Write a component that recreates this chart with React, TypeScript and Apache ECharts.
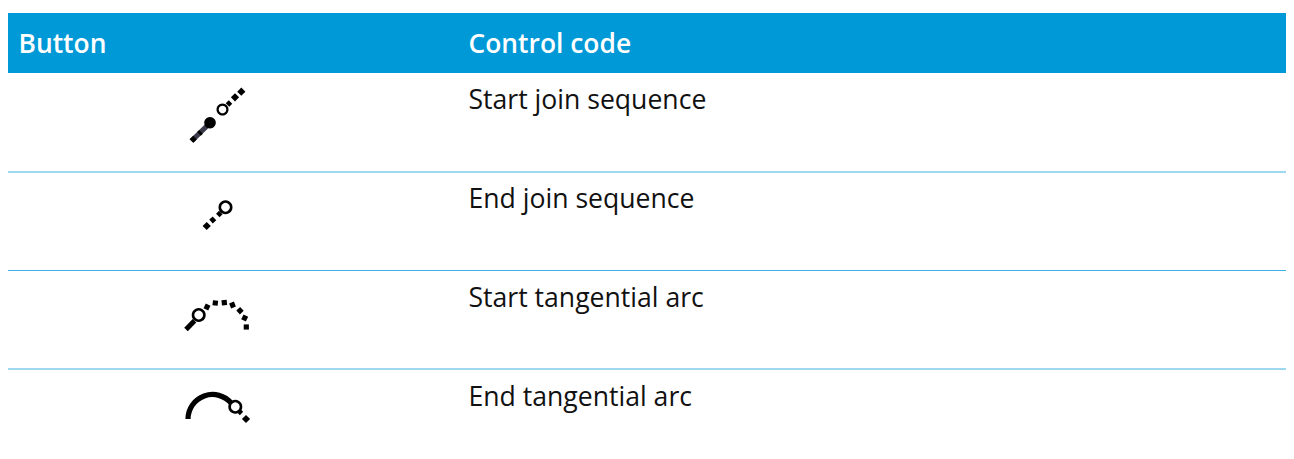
import React, { useEffect, useRef } from "react";
import * as echarts from "echarts";

const headers = ["Button", "Control code"];
const controlCodes = [
  "Start join sequence",
  "End join sequence",
  "Start tangential arc",
  "End tangential arc",
];
const FONT = "'Open Sans', 'Noto Sans', sans-serif";
const BLUE = "#0099D8";
const RULE = "#3DB2E2";
const INK = "#000000";

function seg(x1: number, y1: number, x2: number, y2: number, lineWidth = 5, stroke = INK) {
  return { type: "line", shape: { x1, y1, x2, y2 }, style: { stroke, lineWidth, fill: "none" } };
}
function ringAt(cx: number, cy: number, r: number, lineWidth = 2.6) {
  return { type: "circle", shape: { cx, cy, r }, style: { stroke: INK, fill: "#fff", lineWidth } };
}
function dot(cx: number, cy: number, size = 5.8, angle = Math.PI / 4) {
  return {
    type: "rect",
    x: cx,
    y: cy,
    rotation: angle,
    shape: { x: -size / 2, y: -size / 2, width: size, height: size },
    style: { fill: INK },
  };
}

function icons() {
  return [
    // Start join sequence
    seg(191.5, 141, 210, 123, 5.2, "#3A3A4A"),
    seg(191.5, 141, 195, 137.6, 5.2, INK),
    seg(199, 133.8, 201, 131.8, 5.2, INK),
    { type: "circle", shape: { cx: 210, cy: 122.7, r: 5.8 }, style: { fill: INK } },
    ringAt(222.5, 109.5, 4.9, 2.2),
    seg(227.5, 105, 230.5, 102, 5),
    dot(235, 97.3),
    dot(241.3, 91.7),
    // End join sequence
    ringAt(225.5, 207.3, 5.7, 2.6),
    seg(217.8, 215.6, 220.8, 212.6, 5),
    seg(211, 221.5, 214.5, 218.3, 5.2),
    dot(206.7, 226),
    // Start tangential arc
    seg(186, 329.5, 194.5, 320.8, 5),
    ringAt(198.7, 315, 5.7, 2.6),
    dot(207, 307, 5.2, -0.45),
    dot(215.3, 303, 5.2, -0.1),
    dot(224.3, 302.7, 5.2, 0.1),
    dot(232.5, 305, 5.2, 0.4),
    dot(240, 310.7, 5.2, 0.75),
    dot(244.7, 318, 5.2, 1.1),
    dot(246.3, 327, 5.2, 0),
    // End tangential arc
    {
      type: "arc",
      shape: { cx: 212.5, cy: 419, r: 24.5, startAngle: Math.PI, endAngle: Math.PI * 1.78, clockwise: true },
      style: { stroke: INK, lineWidth: 5.2, fill: "none" },
    },
    ringAt(235.3, 406.7, 5.7, 2.6),
    seg(239.5, 411.5, 241.5, 413.5, 4.6),
    dot(246, 419),
  ];
}

export default function App() {
  const ref = useRef<HTMLDivElement>(null);
  useEffect(() => {
    document.body.style.margin = "0";
    const chart = echarts.init(ref.current!, undefined, { renderer: "svg" });
    const rowTextY = [99, 198, 297, 396];
    const ruleY = [172, 270.5, 369];
    const elements: any[] = [
      { type: "rect", shape: { x: 8, y: 13, width: 1278, height: 60 }, style: { fill: BLUE } },
      {
        type: "text",
        x: 18.5,
        y: 43,
        style: { text: headers[0], fill: "#fff", font: `600 26.4px ${FONT}`, textVerticalAlign: "middle" },
      },
      {
        type: "text",
        x: 468.5,
        y: 43,
        style: { text: headers[1], fill: "#fff", font: `600 26.4px ${FONT}`, textVerticalAlign: "middle" },
      },
      ...controlCodes.map((t, i) => ({
        type: "text",
        x: 468.5,
        y: rowTextY[i],
        style: { text: t, fill: "#111111", font: `400 26.6px ${FONT}`, textVerticalAlign: "middle" },
      })),
      ...ruleY.map((y) => ({
        type: "line",
        shape: { x1: 8, y1: y, x2: 1286, y2: y },
        style: { stroke: RULE, lineWidth: 1 },
      })),
      ...icons(),
    ];
    chart.setOption({ animation: false, backgroundColor: "#fff", graphic: { elements } });
    return () => chart.dispose();
  }, []);
  return <div ref={ref} style={{ width: 1294, height: 459 }} />;
}
